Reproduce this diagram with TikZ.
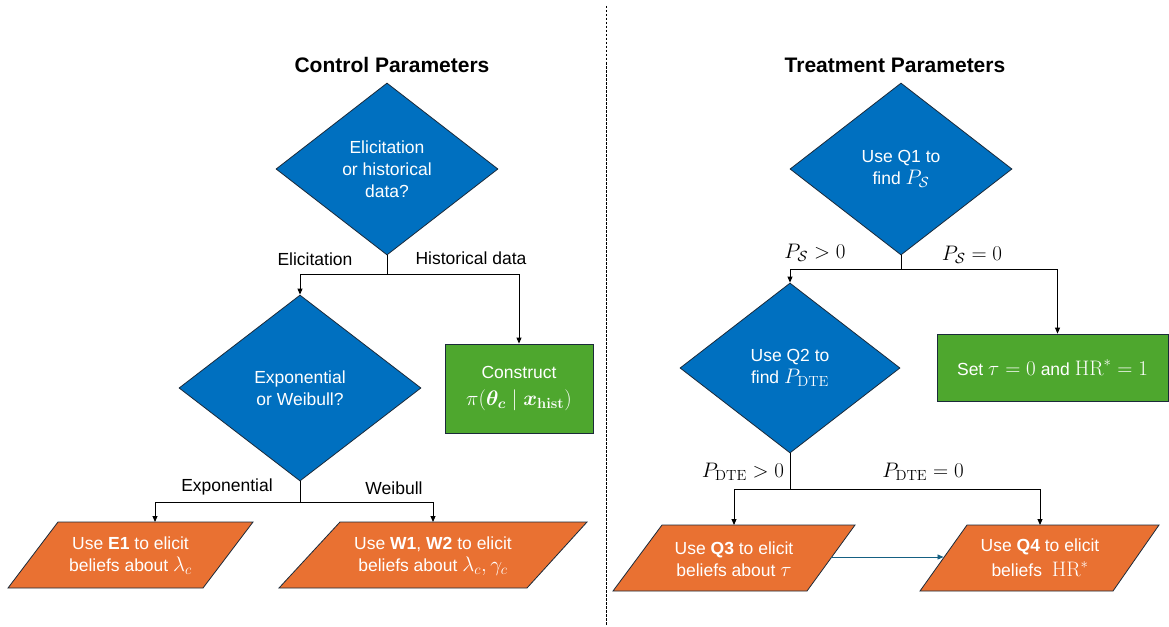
\RequirePackage{fix-cm}
\documentclass[tikz,border=0pt]{standalone}
\usepackage{amsmath,amssymb,bm}
\usepackage[no-math]{fontspec}
\setmainfont{Liberation Sans}
\usetikzlibrary{shapes.geometric,arrows.meta}
\definecolor{dblue}{HTML}{0070C0}
\definecolor{dgreen}{HTML}{4EA72E}
\definecolor{dorange}{HTML}{E97132}
\definecolor{edgec}{HTML}{1B2A3A}
\definecolor{tealarrow}{HTML}{156082}
\newcommand\mth[1]{{\fontsize{21}{22}\selectfont$#1$}}
\tikzset{
  dec/.style={shape=diamond, fill=dblue, draw=edgec, line width=0.8pt, inner sep=0pt, text=white, align=center},
  gbox/.style={rectangle, fill=dgreen, draw=edgec, line width=0.8pt, text=white, align=center, inner sep=0pt},
  para/.style={fill=dorange, draw=edgec, line width=0.8pt},
  ptext/.style={text=white, align=center, inner sep=0pt},
  lbl/.style={text=black, inner sep=0pt},
  arr/.style={-{Triangle[length=6pt,width=5pt]}, line width=0.9pt, black},
  bluearr/.style={-{Triangle[length=6pt,width=5pt]}, line width=0.9pt, tealarrow},
  ttl/.style={font=\fontsize{21}{25}\selectfont\bfseries, inner sep=0pt}
}
\begin{document}
\begin{tikzpicture}[x=1pt,y=-1pt,font=\fontsize{17.5}{22}\selectfont]
\useasboundingbox (0,0) rectangle (1169,626);
\fill[white] (0,0) rectangle (1169,626);

% divider
\coordinate (divtop) at (606,6);
\coordinate (divbot) at (606,626);
\draw[line width=0.8pt, dash pattern=on 2.5pt off 1.5pt] (divtop) -- (divbot);

% titles
\node[ttl] (t1) at (392,65) {Control Parameters};
\node[ttl] (t2) at (895,65) {Treatment Parameters};

% ---------- Control side ----------
\node[dec, minimum width=222pt, minimum height=172pt, aspect=1.29] (d1) at (387,169) {Elicitation\\or historical\\data?};
\node[dec, minimum width=242pt, minimum height=186pt, aspect=1.3] (d2) at (300,388) {Exponential\\or Weibull?};
\node[gbox, minimum width=148pt, minimum height=89pt] (c1) at (519,388.5) {};
\node[ptext] (c1t) at (c1.center) {Construct\\[5pt]\mth{\pi(\bm{\theta}_{\bm{c}}\mid \bm{x}_{\mathbf{hist}})}};

\draw[para] (58,522) -- (253,522) -- (203,588) -- (8,588) -- cycle;
\node[ptext] (e1) at (130.5,556) {Use \textbf{E1} to elicit\\beliefs about \mth{\lambda_c}};
\coordinate (e1top) at (155,522);

\draw[para] (340,522) -- (587,522) -- (527,588) -- (279,588) -- cycle;
\node[ptext] (w1) at (433,556) {Use \textbf{W1}, \textbf{W2} to elicit\\beliefs about \mth{\lambda_c,\gamma_c}};
\coordinate (w1top) at (433,522);

\draw[arr] (d1.south) -- ++(0,19) -| (d2.north);
\draw[arr] (d1.south) -- ++(0,19) -| (c1.north);
\draw[arr] (d2.south) -- ++(0,21) -| (e1top);
\draw[arr] (d2.south) -- ++(0,21) -| (w1top);

\node[lbl] (l1) at (315,259) {Elicitation};
\node[lbl] (l2) at (471,258) {Historical data};
\node[lbl] (l3) at (227,487) {Exponential};
\node[lbl] (l4) at (394,488) {Weibull};

% ---------- Treatment side ----------
\node[dec, minimum width=222pt, minimum height=172pt, aspect=1.29] (q1) at (901,169) {Use Q1 to\\find \mth{P_{\mathcal{S}}}};
\node[dec, minimum width=220pt, minimum height=170pt, aspect=1.29] (q2) at (790,368) {Use Q2 to\\find \mth{P_{\mathrm{DTE}}}};
\node[gbox, minimum width=231pt, minimum height=67pt] (s1) at (1052.5,367.5) {Set \mth{\tau=0} and \mth{\mathrm{HR}^{*}=1}};

\draw[para] (662,525) -- (855,525) -- (807,591) -- (613,591) -- cycle;
\node[ptext] (q3) at (734,559) {Use \textbf{Q3} to elicit\\beliefs about \mth{\tau}};
\coordinate (q3top) at (734,525);
\coordinate (q3e) at (831,557);

\draw[para] (967,525) -- (1159,525) -- (1113,591) -- (920,591) -- cycle;
\node[ptext] (q4) at (1040,558) {Use \textbf{Q4} to elicit\\[3pt]beliefs \ \mth{\mathrm{HR}^{*}}};
\coordinate (q4top) at (1040,525);
\coordinate (q4w) at (943.5,557);

\draw[arr] (q1.south) -- ++(0,14) -| (q2.north);
\draw[arr] (q1.south) -- ++(0,14) -| ([xshift=5pt]s1.north);
\draw[arr] (q2.south) -- ++(0,36) -| (q3top);
\draw[arr] (q2.south) -- ++(0,36) -| (q4top);
\draw[bluearr] (q3e) -- (q4w);

\node[lbl] (m1) at (815,253) {\mth{P_{\mathcal{S}}>0}};
\node[lbl] (m2) at (972,255) {\mth{P_{\mathcal{S}}=0}};
\node[lbl] (m3) at (743,472) {\mth{P_{\mathrm{DTE}}>0}};
\node[lbl] (m4) at (923,472) {\mth{P_{\mathrm{DTE}}=0}};
\end{tikzpicture}
\end{document}
